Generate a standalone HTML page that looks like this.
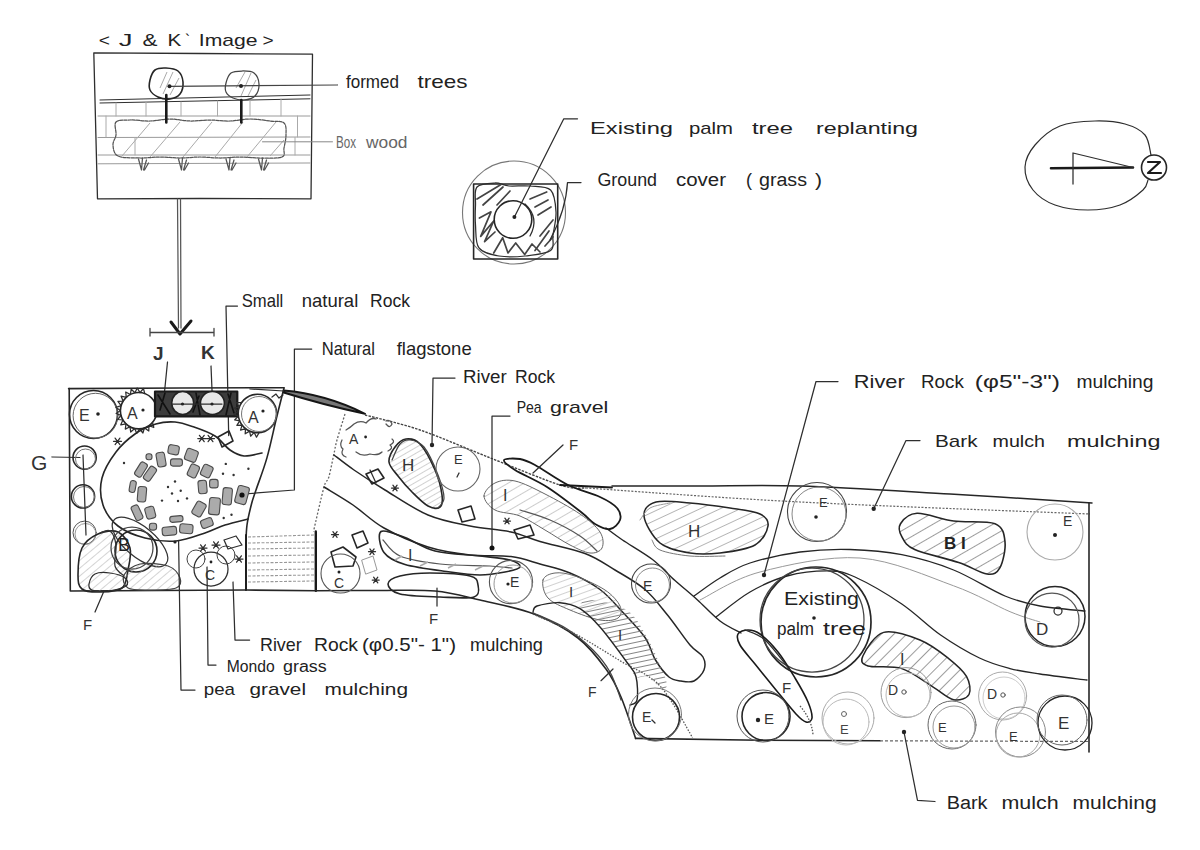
<!DOCTYPE html>
<html><head><meta charset="utf-8">
<style>
html,body{margin:0;padding:0;background:#fff;}
body{width:1200px;height:850px;overflow:hidden;}
svg{display:block;}
text{font-family:"Liberation Sans",sans-serif;fill:#222;}
.s{fill:none;stroke:#262626;stroke-width:1.6;stroke-linecap:round;stroke-linejoin:round;}
.t{fill:none;stroke:#2e2e2e;stroke-width:1.25;stroke-linecap:round;stroke-linejoin:round;}
.l{fill:none;stroke:#888;stroke-width:1;stroke-linecap:round;}
.h{fill:none;stroke:#9a9a9a;stroke-width:1;}
.d{fill:none;stroke:#555;stroke-width:1.3;stroke-dasharray:2 1.5;}
.k{fill:none;stroke:#1a1a1a;stroke-width:2.2;stroke-linecap:round;stroke-linejoin:round;}
</style></head>
<body>
<svg width="1200" height="850" viewBox="0 0 1200 850">
<rect width="1200" height="850" fill="#fff"/>
<text x="98.8" y="46" font-size="17" textLength="11.2" lengthAdjust="spacingAndGlyphs">&lt;</text>
<text x="118.8" y="46" font-size="17" textLength="13.8" lengthAdjust="spacingAndGlyphs">J</text>
<text x="142.5" y="46" font-size="17" textLength="15" lengthAdjust="spacingAndGlyphs">&amp;</text>
<text x="167.5" y="46" font-size="17" textLength="13.8" lengthAdjust="spacingAndGlyphs">K</text>
<text x="185" y="46" font-size="17" textLength="5" lengthAdjust="spacingAndGlyphs">`</text>
<text x="198.8" y="46" font-size="17" textLength="58.8" lengthAdjust="spacingAndGlyphs">Image</text>
<text x="262.5" y="46" font-size="17" textLength="11.2" lengthAdjust="spacingAndGlyphs">&gt;</text>
<path class="t" d="M93.8,52.8 L200,53.5 L312.5,54.2 L311,198.8 L200,198.5 L97.5,198.8 Z" style="stroke-width:1.3"/>
<path class="t" d="M100,100 L310,95 M100,103 L310,98.8" style="stroke-width:1"/>
<path class="l" d="M98,116 L310,116 M98,137.5 L310,137 M98,155 L310,155 M98,163.8 L310,163" style="stroke:#9a9a9a"/>
<path class="l" d="M116,103 V116 M146,102 V116 M181,102 V116 M217.5,101 V116 M250,100 V116 M281,99 V116 M106,116 V137 M297.5,116 V137 M295,137.5 V155 M135,137.5 V155" style="stroke:#aaa"/>
<path class="t" d="M116,122 C118.3,119.5 124.3,120.2 130,120 C135.7,119.8 143.3,121.2 150,121 C156.7,120.8 163.3,119 170,119 C176.7,119 183.3,120.8 190,121 C196.7,121.2 203.3,120 210,120 C216.7,120 223.3,121.2 230,121 C236.7,120.8 243.3,119 250,119 C256.7,119 264.3,120.3 270,121 C275.7,121.7 281.3,120.7 284,123 C286.7,125.3 286,130.8 286,135 C286,139.2 284.7,144.3 284,148 C283.3,151.7 286,155.3 282,157 C278,158.7 267,158 260,158 C253,158 246.7,157 240,157 C233.3,157 226.7,158 220,158 C213.3,158 206.7,157 200,157 C193.3,157 186.7,158 180,158 C173.3,158 166.7,157 160,157 C153.3,157 147,158.2 140,158 C133,157.8 122.5,158.2 118,156 C113.5,153.8 113.3,148.5 113,145 C112.7,141.5 115.5,138.8 116,135 C116.5,131.2 113.7,124.5 116,122 Z" style="stroke:#555;stroke-dasharray:3 1.2"/>
<path class="h" d="M122,156 L150,123 M150,157 L180,122 M183,157 L212,122 M215,157 L243,122 M247,157 L276,122 M270,156 L284,140" style="stroke:#aaa"/>
<path class="t" d="M138.5,159 L141.5,170 L142.5,158 M143.5,170 L146.5,160 M144.5,170 L148.5,163" style="stroke:#555"/>
<path class="t" d="M178.5,159 L181.5,170 L182.5,158 M183.5,170 L186.5,160 M184.5,170 L188.5,163" style="stroke:#555"/>
<path class="t" d="M226,159 L229,170 L230,158 M231,170 L234,160 M232,170 L236,163" style="stroke:#555"/>
<path class="t" d="M258.5,159 L261.5,170 L262.5,158 M263.5,170 L266.5,160 M264.5,170 L268.5,163" style="stroke:#555"/>
<path class="s" d="M150,80 C150.8,76.7 152.3,72 155,70 C157.7,68 162.2,67.8 166,68 C169.8,68.2 175.2,68.7 178,71 C180.8,73.3 182.7,78.2 183,82 C183.3,85.8 182.2,91.2 180,94 C177.8,96.8 173.7,98.5 170,99 C166.3,99.5 161.3,98.5 158,97 C154.7,95.5 151.3,92.8 150,90 C148.7,87.2 149.2,83.3 150,80 Z"/>
<path class="h" d="M167,72 L160,88 M173,72 L163,94 M179,78 L170,95" style="stroke:#aaa"/>
<path class="t" d="M226,83 C226.8,79.8 228.3,75 231,73 C233.7,71 238.2,71 242,71 C245.8,71 251.2,70.8 254,73 C256.8,75.2 258.8,80.2 259,84 C259.2,87.8 257.5,93.3 255,96 C252.5,98.7 247.7,99.7 244,100 C240.3,100.3 236,99.3 233,98 C230,96.7 227.2,94.5 226,92 C224.8,89.5 225.2,86.2 226,83 Z" style="stroke:#444"/>
<path class="h" d="M245,72 L236,88 M251,73 L241,96 M256,80 L248,96" style="stroke:#aaa"/>
<path class="k" d="M166.3,95 V122.5 M241.3,100 V122.5" style="stroke-width:2.6"/>
<path class="t" d="M170,86.3 L337.5,85" style="stroke:#444"/>
<circle cx="169.5" cy="86.3" r="2" fill="#222"/>
<circle cx="241" cy="86" r="2" fill="#222"/>
<text x="346" y="88" font-size="19" textLength="53" lengthAdjust="spacingAndGlyphs">formed</text>
<text x="417.5" y="88" font-size="19" textLength="50" lengthAdjust="spacingAndGlyphs">trees</text>
<path class="l" d="M262.5,141.8 L332.5,141.8"/>
<text x="336" y="148" font-size="16" textLength="20" lengthAdjust="spacingAndGlyphs" style="fill:#666">Box</text>
<text x="366" y="148" font-size="16" textLength="41.5" lengthAdjust="spacingAndGlyphs" style="fill:#666">wood</text>
<path class="t" d="M177.5,199 L178.5,328 M180.5,199 L181,328" style="stroke:#555"/>
<path class="k" d="M171,322 L180,334 L191,321" style="stroke-width:3"/>
<circle class="l" cx="514" cy="212.5" r="51.5" style="stroke:#777;stroke-width:1.1"/>
<path class="s" d="M473.6,184 L557.7,184 L557.7,259 L473.6,259 Z" style="stroke-width:1.6"/>
<path class="t" d="M477,187 C480.2,183.3 489.7,183.2 495,183 C500.3,182.8 503.2,185.5 509,186 C514.8,186.5 523.1,185.3 530,186 C536.9,186.7 546.3,185.7 550.6,190 C554.9,194.3 555.6,204.5 556,212 C556.4,219.5 553.9,228.6 553,235 C552.1,241.4 555.3,247.1 550.6,250.6 C545.9,254.1 533.6,255.1 525,256 C516.4,256.9 506.7,257.3 499,256 C491.3,254.7 482.9,253.2 479,248 C475.1,242.8 476.1,232.2 475.5,225 C474.9,217.8 475.2,211.3 475.5,205 C475.8,198.7 473.8,190.7 477,187 Z"/>
<path class="t" d="M477,199 L501,184.5 M483,205 L503,187 M497,205 L510,191" style="stroke:#444;stroke-width:1.7"/>
<path class="t" d="M479.4,218 L491,211.8 L480.7,236.4 L493.7,221 L484.6,241.6 L495,232" style="stroke:#444;stroke-width:1.7"/>
<path class="t" d="M493.7,253 L502.7,237.7 L508,253 L515.7,243 L524.7,254.5 L532,244 L540,252" style="stroke:#444;stroke-width:1.7"/>
<path class="t" d="M530,199 L546.7,192 M535,207 L548,200 M538,215 L551,207 M540,236 L553,220 M535,250.6 L549,231 M545,246 L553,237" style="stroke:#444;stroke-width:1.7"/>
<circle class="s" cx="513" cy="219.5" r="18.8" style="stroke-width:1.6"/>
<path class="t" d="M525,204 Q540,218 530,236"/>
<path class="t" d="M514.4,217 L563.8,118.8 L577.5,118.8"/>
<circle cx="514.4" cy="217" r="2" fill="#222"/>
<text x="590" y="134" font-size="17" textLength="83" lengthAdjust="spacingAndGlyphs">Existing</text>
<text x="689" y="134" font-size="17" textLength="44" lengthAdjust="spacingAndGlyphs">palm</text>
<text x="752" y="134" font-size="17" textLength="41" lengthAdjust="spacingAndGlyphs">tree</text>
<text x="816" y="134" font-size="17" textLength="102" lengthAdjust="spacingAndGlyphs">replanting</text>
<path class="t" d="M550,240 Q566,210 567.5,182.5 L581,182.5"/>
<text x="597.5" y="186" font-size="18" textLength="59.5" lengthAdjust="spacingAndGlyphs">Ground</text>
<text x="676" y="186" font-size="18" textLength="50" lengthAdjust="spacingAndGlyphs">cover</text>
<text x="746" y="186" font-size="18" textLength="6" lengthAdjust="spacingAndGlyphs">(</text>
<text x="759" y="186" font-size="18" textLength="48" lengthAdjust="spacingAndGlyphs">grass</text>
<text x="815" y="186" font-size="18" textLength="7" lengthAdjust="spacingAndGlyphs">)</text>
<path class="t" d="M1151,155 C1150,151.7 1149.3,140.2 1145,135 C1140.7,129.8 1133.3,126.3 1125,124 C1116.7,121.7 1105.8,120.7 1095,121 C1084.2,121.3 1070,122 1060,126 C1050,130 1040.8,138.2 1035,145 C1029.2,151.8 1025.3,159.5 1025,167 C1024.7,174.5 1028,183.7 1033,190 C1038,196.3 1045.8,201.7 1055,205 C1064.2,208.3 1077.2,210 1088,210 C1098.8,210 1110.8,208.3 1120,205 C1129.2,201.7 1138.3,194.2 1143,190 C1147.7,185.8 1147.2,181.7 1148,180" style="stroke-width:1.2"/>
<circle class="s" cx="1154" cy="167.5" r="12.5" style="stroke-width:1.6"/>
<path class="k" d="M1148,162 L1160,162 L1148,173 L1161,173" style="stroke-width:2.2"/>
<path class="k" d="M1051,168.3 L1133,167.5" style="stroke-width:2.6"/>
<path class="t" d="M1073,153 V184 M1073,153 L1133,167.5"/>
<path class="t" d="M150,332.5 L214,332.5 M150,328.5 V336 M214,328.5 V336" style="stroke:#444;stroke-width:1.3"/>
<text x="153" y="360" font-size="19" font-weight="bold" style="fill:#333">J</text>
<text x="201" y="359" font-size="19" font-weight="bold" style="fill:#333">K</text>
<path class="t" d="M167.5,362 L164,397 M211,366 L212.5,402"/>
<path class="t" d="M228.7,435.6 L226,306 L237.5,306"/>
<text x="241.7" y="307" font-size="19" textLength="41.6" lengthAdjust="spacingAndGlyphs">Small</text>
<text x="301.7" y="307" font-size="19" textLength="56.6" lengthAdjust="spacingAndGlyphs">natural</text>
<text x="370" y="307" font-size="19" textLength="40" lengthAdjust="spacingAndGlyphs">Rock</text>
<path class="t" d="M244,494 L294.4,490 L294.4,349 L311.7,349"/>
<text x="321.7" y="355" font-size="19" textLength="53.3" lengthAdjust="spacingAndGlyphs">Natural</text>
<text x="396.7" y="355" font-size="19" textLength="75" lengthAdjust="spacingAndGlyphs">flagstone</text>
<text x="31" y="470" font-size="21" style="fill:#333">G</text>
<path class="t" d="M52,457 L80,457.5"/>
<path class="s" d="M68.6,388.6 L180,388 L284,387.7" style="stroke-width:1.6"/>
<path class="s" d="M69.2,388.6 L70.3,591 L246,590"/>
<path class="s" d="M284,388 C282.7,393.3 278.8,408.4 276,420 C273.2,431.6 270.3,445.9 267,457.6 C263.7,469.3 258.6,482.3 256,490 C253.4,497.7 253,498.2 251.5,504 C250,509.8 247.9,518.2 247,525 C246.1,531.8 246.2,534.2 246,545 C245.8,555.8 246,582.2 246,589.6"/>
<circle class="s" cx="93.5" cy="414.5" r="24"/>
<circle class="l" cx="95.5" cy="415.7" r="22.4" style="stroke:#666"/>
<text x="79" y="421" font-size="16" style="fill:#333">E</text>
<circle cx="98" cy="414" r="1.8" fill="#222"/>
<circle class="s" cx="138.6" cy="410.7" r="18.2"/>
<path class="t" d="M152.5,422.4 L153.8,427.5 L148.9,425.7 L148.8,431 L144.5,427.9 L142.9,433 L139.6,428.9 L136.7,433.3 L134.7,428.5 L130.7,432 L130,426.8 L125.3,429.1 L126,423.8 L120.8,424.8 L122.9,420 L117.7,419.5 L121,415.4 L116.1,413.5 L120.4,410.5 L116.1,407.4 L121.1,405.6 L117.9,401.4 L123.1,401.1 L121.1,396.2 L126.3,397.3 L125.7,392 L130.4,394.5 L131.2,389.2 L135,392.8 L137.2,388 L140,392.6 L143.4,388.5 L144.8,393.6"/>
<text x="127" y="419" font-size="16" style="fill:#333">A</text>
<circle cx="143" cy="410" r="1.6" fill="#222"/>
<rect x="155" y="391.5" width="82.3" height="25" fill="#3c3c3c"/>
<path class="t" d="M158,395 L170,414 M165,393 L160,410 M196,393 L200,415 M199,396 L193,412 M228,394 L234,413 M231,393 L226,415" style="stroke:#111;stroke-width:1.6"/>
<path class="k" d="M155,391.5 L237.3,391.5 L237.3,416.4 L155,416.4 Z"/>
<ellipse class="s" cx="182.7" cy="403" rx="11" ry="11.5" transform="rotate(0 182.7 403)" style="fill:#e8e8e8;stroke:#222;stroke-width:1.6"/>
<ellipse class="s" cx="212.4" cy="403" rx="12" ry="11.5" transform="rotate(0 212.4 403)" style="fill:#e8e8e8;stroke:#222;stroke-width:1.6"/>
<path class="t" d="M172,404 L222,404"/>
<circle cx="182.5" cy="404" r="1.6" fill="#222"/>
<circle cx="212" cy="404" r="1.6" fill="#222"/>
<circle class="s" cx="257.4" cy="413.5" r="19.2"/>
<circle class="l" cx="259" cy="414" r="17.5" style="stroke:#777"/>
<path class="t" d="M259.1,432.6 L256.5,437.2 L254.2,432.4 L250.6,436.2 L249.6,431.1 L245.2,433.8 L245.5,428.6 L240.5,430.1 L242.1,425.1 L236.9,425.4 L239.7,420.9 L234.6,419.9 L238.4,416.3 L233.7,414 L238.3,411.5 L234.3,408 L239.4,406.8 L236.4,402.5 L241.7,402.5"/>
<text x="248" y="423" font-size="16" style="fill:#333">A</text>
<circle cx="263" cy="411" r="1.6" fill="#222"/>
<path class="t" d="M272,397 L276,394 L279,398 L283,395"/>
<path class="t" d="M113.5,441.3 L121.5,441.3 M115.1,438.1 L119.9,444.5 M119.9,438.1 L115.1,444.5"/>
<path class="t" d="M197.8,438.5 L205.8,438.5 M199.4,435.3 L204.2,441.7 M204.2,435.3 L199.4,441.7"/>
<path class="t" d="M206.5,438.5 L214.5,438.5 M208.1,435.3 L212.9,441.7 M212.9,435.3 L208.1,441.7"/>
<path class="s" d="M218,437 L229,431 L233,441 L222,447 Z"/>
<circle class="s" cx="84.6" cy="457.6" r="11.6"/>
<circle class="l" cx="85.5" cy="459" r="10" style="stroke:#777"/>
<circle class="s" cx="83" cy="496.4" r="11.6"/>
<circle class="l" cx="84" cy="497" r="10.5" style="stroke:#777"/>
<circle class="l" cx="84.6" cy="532.7" r="11.6" style="stroke:#555"/>
<circle class="l" cx="85.5" cy="534" r="10.5" style="stroke:#999"/>
<path class="t" d="M83,455 L86,535"/>
<path class="s" d="M262,453 C259,453.5 249.3,456.5 244,456 C238.7,455.5 234.8,453.3 230,450 C225.2,446.7 221,439.8 215,436 C209,432.2 200.7,429.3 194,427 C187.3,424.7 181.4,422.5 175,422 C168.6,421.5 162.5,422 155.8,424 C149.1,426 141.6,429.3 135,434 C128.4,438.7 121.5,444.7 116,452 C110.5,459.3 104.2,469.2 102,478 C99.8,486.8 100.3,497 103,505 C105.7,513 111,520.5 118,526 C125,531.5 135.3,535.5 145,538 C154.7,540.5 166,541.8 176,541 C186,540.2 196.8,535.7 205,533 C213.2,530.3 217.8,527.3 225,525 C232.2,522.7 244.2,520 248,519"/>
<rect x="168.2" y="445.1" width="10.8" height="9.3" rx="2.5" transform="rotate(10 173.6 449.8)" fill="#ababab" stroke="#4a4a4a" stroke-width="1.1"/>
<rect x="156.8" y="452.4" width="8.5" height="14.4" rx="2.5" transform="rotate(-10 161 459.6)" fill="#ababab" stroke="#4a4a4a" stroke-width="1.1"/>
<rect x="146" y="453.8" width="6" height="6" rx="2.5" transform="rotate(0 149 456.8)" fill="#ababab" stroke="#4a4a4a" stroke-width="1.1"/>
<rect x="137.2" y="461.9" width="7.6" height="15.3" rx="2.5" transform="rotate(32 141 469.5)" fill="#ababab" stroke="#4a4a4a" stroke-width="1.1"/>
<rect x="146.2" y="466.1" width="7.6" height="15.3" rx="2.5" transform="rotate(35 150 473.7)" fill="#ababab" stroke="#4a4a4a" stroke-width="1.1"/>
<rect x="129.7" y="480.6" width="6" height="11.9" rx="2.5" transform="rotate(10 132.7 486.5)" fill="#ababab" stroke="#4a4a4a" stroke-width="1.1"/>
<rect x="137.7" y="486.6" width="8.5" height="15.3" rx="2.5" transform="rotate(5 141.9 494.2)" fill="#ababab" stroke="#4a4a4a" stroke-width="1.1"/>
<rect x="133.2" y="505" width="7.6" height="15.3" rx="2.5" transform="rotate(-25 137 512.6)" fill="#ababab" stroke="#4a4a4a" stroke-width="1.1"/>
<rect x="145.6" y="506.7" width="9.3" height="11.9" rx="2.5" transform="rotate(-15 150.3 512.6)" fill="#ababab" stroke="#4a4a4a" stroke-width="1.1"/>
<rect x="149.4" y="523.3" width="7.2" height="6.8" rx="2.5" transform="rotate(0 153 526.7)" fill="#ababab" stroke="#4a4a4a" stroke-width="1.1"/>
<rect x="162.2" y="526.8" width="14.4" height="8.5" rx="2.5" transform="rotate(-5 169.4 531)" fill="#ababab" stroke="#4a4a4a" stroke-width="1.1"/>
<rect x="169.8" y="516" width="13.2" height="6" rx="2.5" transform="rotate(-5 176.4 519)" fill="#ababab" stroke="#4a4a4a" stroke-width="1.1"/>
<rect x="179.7" y="524.1" width="13.2" height="9.3" rx="2.5" transform="rotate(5 186.3 528.8)" fill="#ababab" stroke="#4a4a4a" stroke-width="1.1"/>
<rect x="200.9" y="518.8" width="11.9" height="8.5" rx="2.5" transform="rotate(-20 206.8 523)" fill="#ababab" stroke="#4a4a4a" stroke-width="1.1"/>
<rect x="193.9" y="501.8" width="10.2" height="14.4" rx="2.5" transform="rotate(30 199 509)" fill="#ababab" stroke="#4a4a4a" stroke-width="1.1"/>
<rect x="209.1" y="497.7" width="10.8" height="17" rx="2.5" transform="rotate(5 214.5 506.2)" fill="#ababab" stroke="#4a4a4a" stroke-width="1.1"/>
<rect x="222.6" y="487.8" width="9.3" height="17" rx="2.5" transform="rotate(5 227.3 496.3)" fill="#ababab" stroke="#4a4a4a" stroke-width="1.1"/>
<rect x="236.3" y="486.1" width="11.5" height="17.8" rx="2.5" transform="rotate(15 242 495)" fill="#ababab" stroke="#4a4a4a" stroke-width="1.1"/>
<rect x="209.6" y="479.4" width="8.5" height="8.5" rx="2.5" transform="rotate(0 213.8 483.6)" fill="#ababab" stroke="#4a4a4a" stroke-width="1.1"/>
<rect x="198.3" y="480.4" width="8.5" height="13.2" rx="2.5" transform="rotate(-5 202.6 487)" fill="#ababab" stroke="#4a4a4a" stroke-width="1.1"/>
<rect x="201.7" y="465.1" width="10.2" height="11.9" rx="2.5" transform="rotate(25 206.8 471)" fill="#ababab" stroke="#4a4a4a" stroke-width="1.1"/>
<rect x="188.7" y="464.6" width="9.3" height="12.8" rx="2.5" transform="rotate(25 193.4 471)" fill="#ababab" stroke="#4a4a4a" stroke-width="1.1"/>
<rect x="185.4" y="449.4" width="11.9" height="11.9" rx="2.5" transform="rotate(20 191.3 455.4)" fill="#ababab" stroke="#4a4a4a" stroke-width="1.1"/>
<rect x="170.5" y="458.9" width="11.9" height="7.2" rx="2.5" transform="rotate(0 176.4 462.5)" fill="#ababab" stroke="#4a4a4a" stroke-width="1.1"/>
<circle cx="242" cy="495" r="2.6" fill="#111"/>
<circle cx="124" cy="463" r="1.2" fill="#333"/>
<circle cx="168" cy="487" r="1.2" fill="#333"/>
<circle cx="175" cy="481.5" r="1.2" fill="#333"/>
<circle cx="180.7" cy="490.7" r="1.2" fill="#333"/>
<circle cx="172" cy="493.5" r="1.2" fill="#333"/>
<circle cx="162" cy="500.6" r="1.2" fill="#333"/>
<circle cx="178" cy="501" r="1.2" fill="#333"/>
<circle cx="187" cy="498.4" r="1.2" fill="#333"/>
<circle cx="225.8" cy="463.9" r="1.2" fill="#333"/>
<circle cx="248.4" cy="468.8" r="1.2" fill="#333"/>
<circle cx="223" cy="473.7" r="1.2" fill="#333"/>
<circle cx="233.6" cy="475" r="1.2" fill="#333"/>
<circle cx="223.7" cy="518" r="1.2" fill="#333"/>
<circle cx="231.5" cy="514.7" r="1.2" fill="#333"/>
<clipPath id="c1"><path d="M78,575 C78,568.2 78.7,554.8 82,548 C85.3,541.2 92,536.7 98,534 C104,531.3 112.7,529.7 118,532 C123.3,534.3 128.3,541.7 130,548 C131.7,554.3 129.3,563.3 128,570 C126.7,576.7 126.7,584.3 122,588 C117.3,591.7 106.7,591.8 100,592 C93.3,592.2 85.7,591.8 82,589 C78.3,586.2 78,581.8 78,575 Z"/></clipPath>
<pattern id="p1" patternUnits="userSpaceOnUse" width="6" height="6" patternTransform="rotate(50)"><line x1="0" y1="0" x2="0" y2="6" stroke="#aaa" stroke-width="1"/></pattern>
<path d="M78,575 C78,568.2 78.7,554.8 82,548 C85.3,541.2 92,536.7 98,534 C104,531.3 112.7,529.7 118,532 C123.3,534.3 128.3,541.7 130,548 C131.7,554.3 129.3,563.3 128,570 C126.7,576.7 126.7,584.3 122,588 C117.3,591.7 106.7,591.8 100,592 C93.3,592.2 85.7,591.8 82,589 C78.3,586.2 78,581.8 78,575 Z" fill="url(#p1)" stroke="none"/>
<path class="s" d="M78,575 C78,568.2 78.7,554.8 82,548 C85.3,541.2 92,536.7 98,534 C104,531.3 112.7,529.7 118,532 C123.3,534.3 128.3,541.7 130,548 C131.7,554.3 129.3,563.3 128,570 C126.7,576.7 126.7,584.3 122,588 C117.3,591.7 106.7,591.8 100,592 C93.3,592.2 85.7,591.8 82,589 C78.3,586.2 78,581.8 78,575 Z"/>
<circle class="s" cx="136" cy="551" r="21"/>
<circle class="t" cx="132" cy="548" r="21" style="stroke:#444"/>
<ellipse class="t" cx="140" cy="542" rx="34" ry="15" transform="rotate(40 140 542)" style="stroke:#333"/>
<path class="t" d="M100,533 C101.7,532.7 107.3,529 110,531 C112.7,533 115.2,539.2 116,545 C116.8,550.8 113.7,560.8 115,566 C116.3,571.2 122.5,574.3 124,576" style="stroke:#333"/>
<text x="118" y="551" font-size="18" style="fill:#222">B</text>
<clipPath id="c2"><path d="M124,575 C126,571 132.7,565.5 140,564 C147.3,562.5 161.3,563.7 168,566 C174.7,568.3 178.7,574.3 180,578 C181.3,581.7 181,586 176,588 C171,590 158,590 150,590 C142,590 132.3,590.5 128,588 C123.7,585.5 122,579 124,575 Z"/></clipPath>
<pattern id="p2" patternUnits="userSpaceOnUse" width="6" height="6" patternTransform="rotate(50)"><line x1="0" y1="0" x2="0" y2="6" stroke="#aaa" stroke-width="1"/></pattern>
<path d="M124,575 C126,571 132.7,565.5 140,564 C147.3,562.5 161.3,563.7 168,566 C174.7,568.3 178.7,574.3 180,578 C181.3,581.7 181,586 176,588 C171,590 158,590 150,590 C142,590 132.3,590.5 128,588 C123.7,585.5 122,579 124,575 Z" fill="url(#p2)" stroke="none"/>
<path class="t" d="M124,575 C126,571 132.7,565.5 140,564 C147.3,562.5 161.3,563.7 168,566 C174.7,568.3 178.7,574.3 180,578 C181.3,581.7 181,586 176,588 C171,590 158,590 150,590 C142,590 132.3,590.5 128,588 C123.7,585.5 122,579 124,575 Z" style="stroke:#444"/>
<path class="t" d="M89,584 C89.5,581.3 91.5,575.8 95,574 C98.5,572.2 105,572.3 110,573 C115,573.7 122.3,575.8 125,578 C127.7,580.2 128.8,583.8 126,586 C123.2,588.2 113.7,590.3 108,591 C102.3,591.7 95.2,591.2 92,590 C88.8,588.8 88.5,586.7 89,584 Z"/>
<path class="t" d="M104,591 L95,612"/>
<text x="83" y="630" font-size="15" style="fill:#333">F</text>
<circle class="t" cx="211" cy="569" r="17"/>
<circle class="l" cx="196" cy="559" r="9" style="stroke:#444"/>
<circle class="l" cx="226" cy="555" r="9" style="stroke:#444"/>
<text x="205" y="580" font-size="14" style="fill:#333">C</text>
<circle cx="211" cy="562" r="1.4" fill="#222"/>
<path class="t" d="M199,548 L207,548 M200.6,544.8 L205.4,551.2 M205.4,544.8 L200.6,551.2"/>
<path class="t" d="M212,545 L220,545 M213.6,541.8 L218.4,548.2 M218.4,541.8 L213.6,548.2"/>
<path class="t" d="M235,559 L243,559 M236.6,555.8 L241.4,562.2 M241.4,555.8 L236.6,562.2"/>
<path class="t" d="M224,540 L236,536 L242,545 L228,549 Z"/>
<circle cx="175" cy="542" r="1.6" fill="#222"/>
<path class="d" d="M248,537 L314,535 M248,543 L314,542 M248,549 L314,548 M248,556 L314,555 M248,563 L314,562 M248,570 L314,569 M248,576 L314,575 M248,582 L314,581" style="stroke:#999;stroke-width:1.1;stroke-dasharray:3 1.5"/>
<path class="k" d="M246,535 V590" style="stroke-width:1.8"/>
<path class="k" d="M315.8,531.5 V590.7" style="stroke-width:2.4"/>
<path d="M283.7,390.6 Q325,394 365,413.8 Q322,404.5 283.7,392.5 Z" fill="#777" stroke="#151515" stroke-width="2" stroke-linejoin="round"/>
<path class="t" d="M283.7,391 L250,389"/>
<path class="d" d="M365,415 C374.2,417.5 399.5,423 420,430 C440.5,437 464.7,447.8 488,457 C511.3,466.2 543.7,479.8 560,485 C576.3,490.2 581.7,487.5 586,488" style="stroke:#444;stroke-width:1.4;stroke-dasharray:2.5 1.2"/>
<path class="d" d="M586,488 C621.7,490.3 716,497.7 800,502 C884,506.3 1041.7,512 1090,514" style="stroke:#666;stroke-width:1.2;stroke-dasharray:2 1.5"/>
<path class="d" d="M345,414 C343.7,418.3 338.9,433.2 337,440 C335.1,446.8 335.1,448.8 333.7,455 C332.3,461.2 330.3,472.2 328.7,477.5 C327.1,482.8 326.5,478 324,487 C321.5,496 315.2,524.1 313.5,531.5" style="stroke:#666;stroke-width:1.3;stroke-dasharray:2 1.8"/>
<path class="s" d="M316,590.7 C326.7,590.7 360.2,590.5 380,590.5 C399.8,590.5 418.3,589.4 435,591 C451.7,592.6 463.5,596.2 480,600 C496.5,603.8 517.7,607.7 534,614 C550.3,620.3 566,628.8 578,638 C590,647.2 598.8,659.2 606,669 C613.2,678.8 616.1,685.4 621,697 C625.9,708.6 633.2,731.5 635.6,738.4" style="stroke-width:1.6"/>
<path class="s" d="M635.6,738.4 L760,740.3 L880,740.8"/>
<path class="s" d="M334,455 C337.3,457.5 345.5,464.2 354,470 C362.5,475.8 372.7,482.5 385,490 C397.3,497.5 413.8,509 428,515 C442.2,521 456.2,523.2 470,526 C483.8,528.8 499.3,529.4 511,532 C522.7,534.6 527.7,537.9 540,541.5 C552.3,545.1 572.5,548.8 585,553.5 C597.5,558.2 605,564 615,570 C625,576 636.2,582 645,589.5 C653.8,597 660,605.8 667.5,615 C675,624.2 684.1,638 690,645 C695.9,652 700.7,652.8 703,657 C705.3,661.2 705.5,666 704,670 C702.5,674 697.8,679.2 694,681 C690.2,682.8 685.2,681.7 681,681 C676.8,680.3 673.2,680.5 669,677 C664.8,673.5 659.5,666.6 655.5,660 C651.5,653.4 650.5,645.5 645,637.5 C639.5,629.5 630,620 622.5,612 C615,604 608.8,596 600,589.5 C591.2,583 580,577.2 570,573 C560,568.8 549.8,566.8 540,564 C530.2,561.2 522.7,558 511,556.5 C499.3,555 483.8,556.6 470,555 C456.2,553.4 442.3,551.5 428,547 C413.7,542.5 396.5,535 384,528 C371.5,521 363,511.8 353,505 C343,498.2 328.8,490 324,487" style="stroke-width:1.5"/>
<path class="s" d="M606,528 C608.8,530 614.8,534.8 622.5,540 C630.2,545.2 643.8,552.8 652.5,559.5 C661.2,566.2 667.5,573.8 675,580.5 C682.5,587.2 690,593.2 697.5,600 C705,606.8 712.8,615.5 720,621 C727.2,626.5 737.5,631 741,633" style="stroke-width:1.4"/>
<path class="k" d="M504,460 C504.8,458.2 514.8,458.2 520,459 C525.2,459.8 527,460.7 535,465 C543,469.3 557.2,479.7 568,485 C578.8,490.3 591.8,493.2 600,497 C608.2,500.8 613.7,504.2 617,508 C620.3,511.8 621.2,516.5 620,520 C618.8,523.5 614.2,528.3 610,529 C605.8,529.7 599.8,526.8 595,524 C590.2,521.2 589,518.2 581,512 C573,505.8 558,494 547,487 C536,480 522.2,474.5 515,470 C507.8,465.5 503.2,461.8 504,460 Z" style="stroke-width:1.8"/>
<path class="t" d="M563,445 L533,473"/>
<text x="569" y="450" font-size="15" style="fill:#333">F</text>
<clipPath id="c3"><path d="M389,462 C388.5,457.2 392.2,450.8 395,447 C397.8,443.2 401.8,439.5 406,439 C410.2,438.5 415.2,438.8 420,444 C424.8,449.2 431.3,461.5 435,470 C438.7,478.5 441.2,488.8 442,495 C442.8,501.2 442.3,505.2 440,507 C437.7,508.8 432.7,508.5 428,506 C423.3,503.5 417,497 412,492 C407,487 401.8,481 398,476 C394.2,471 389.5,466.8 389,462 Z"/></clipPath>
<pattern id="p3" patternUnits="userSpaceOnUse" width="5" height="5" patternTransform="rotate(60)"><line x1="0" y1="0" x2="0" y2="5" stroke="#aaa" stroke-width="1.1"/></pattern>
<path d="M389,462 C388.5,457.2 392.2,450.8 395,447 C397.8,443.2 401.8,439.5 406,439 C410.2,438.5 415.2,438.8 420,444 C424.8,449.2 431.3,461.5 435,470 C438.7,478.5 441.2,488.8 442,495 C442.8,501.2 442.3,505.2 440,507 C437.7,508.8 432.7,508.5 428,506 C423.3,503.5 417,497 412,492 C407,487 401.8,481 398,476 C394.2,471 389.5,466.8 389,462 Z" fill="url(#p3)" stroke="none"/>
<path class="s" d="M389,462 C388.5,457.2 392.2,450.8 395,447 C397.8,443.2 401.8,439.5 406,439 C410.2,438.5 415.2,438.8 420,444 C424.8,449.2 431.3,461.5 435,470 C438.7,478.5 441.2,488.8 442,495 C442.8,501.2 442.3,505.2 440,507 C437.7,508.8 432.7,508.5 428,506 C423.3,503.5 417,497 412,492 C407,487 401.8,481 398,476 C394.2,471 389.5,466.8 389,462 Z"/>
<path class="t" d="M392,460 C393.3,457.3 397,447.3 400,444 C403,440.7 406,439.5 410,440 C414,440.5 419.3,441.2 424,447 C428.7,452.8 434.7,466.5 438,475 C441.3,483.5 444,492.5 444,498 C444,503.5 439,506.3 438,508" style="stroke:#444"/>
<text x="402" y="471" font-size="17" style="fill:#333">H</text>
<circle class="l" cx="458" cy="469" r="22" style="stroke:#666;stroke-width:1.1"/>
<text x="454" y="464" font-size="13" style="fill:#333">E</text>
<path class="t" d="M459,473 L457,477"/>
<circle cx="432" cy="445" r="2.2" fill="#222"/>
<path class="t" d="M346,430 q5,-3 8,-6 q6,-4 12,-1 q5,-6 10,-4 M386,421 q4,-2 6,3 q-2,5 -6,0 M342,440 q-3,6 1,9 q-3,6 3,8 M356,452 q6,5 14,2 q8,2 12,-2 M392,439 q4,3 -2,6 q4,3 -2,6" style="stroke:#555"/>
<text x="349" y="444" font-size="14" style="fill:#333">A</text>
<circle cx="365.6" cy="437" r="1.4" fill="#222"/>
<path class="s" d="M366,474 L378,469 L384,478 L372,484 Z"/>
<path class="t" d="M370,470 L376,483"/>
<path class="t" d="M391.5,488 L398.5,488 M392.9,485.2 L397.1,490.8 M397.1,485.2 L392.9,490.8"/>
<clipPath id="c4"><path d="M484,496 C484,491.5 489.8,485.5 495,483 C500.2,480.5 506.7,479.2 515,481 C523.3,482.8 534.2,488.5 545,494 C555.8,499.5 570.8,507.7 580,514 C589.2,520.3 596.3,526.3 600,532 C603.7,537.7 603.7,544.5 602,548 C600.3,551.5 595.3,553.5 590,553 C584.7,552.5 577.5,548.8 570,545 C562.5,541.2 553.3,534.8 545,530 C536.7,525.2 528.3,519.3 520,516 C511.7,512.7 501,513.3 495,510 C489,506.7 484,500.5 484,496 Z"/></clipPath>
<pattern id="p4" patternUnits="userSpaceOnUse" width="8" height="8" patternTransform="rotate(60)"><line x1="0" y1="0" x2="0" y2="8" stroke="#aaa" stroke-width="1.2"/></pattern>
<path d="M484,496 C484,491.5 489.8,485.5 495,483 C500.2,480.5 506.7,479.2 515,481 C523.3,482.8 534.2,488.5 545,494 C555.8,499.5 570.8,507.7 580,514 C589.2,520.3 596.3,526.3 600,532 C603.7,537.7 603.7,544.5 602,548 C600.3,551.5 595.3,553.5 590,553 C584.7,552.5 577.5,548.8 570,545 C562.5,541.2 553.3,534.8 545,530 C536.7,525.2 528.3,519.3 520,516 C511.7,512.7 501,513.3 495,510 C489,506.7 484,500.5 484,496 Z" fill="url(#p4)" stroke="none"/>
<path class="l" d="M484,496 C484,491.5 489.8,485.5 495,483 C500.2,480.5 506.7,479.2 515,481 C523.3,482.8 534.2,488.5 545,494 C555.8,499.5 570.8,507.7 580,514 C589.2,520.3 596.3,526.3 600,532 C603.7,537.7 603.7,544.5 602,548 C600.3,551.5 595.3,553.5 590,553 C584.7,552.5 577.5,548.8 570,545 C562.5,541.2 553.3,534.8 545,530 C536.7,525.2 528.3,519.3 520,516 C511.7,512.7 501,513.3 495,510 C489,506.7 484,500.5 484,496 Z" style="stroke:#666"/>
<path class="t" d="M520,510 C525,511.7 540,515.7 550,520 C560,524.3 572.2,530.8 580,536 C587.8,541.2 594.2,548.5 597,551" style="stroke:#555"/>
<text x="503" y="501" font-size="16" style="fill:#333">I</text>
<path class="s" d="M458,510 L471,506 L475,519 L462,522 Z"/>
<path class="s" d="M514,530 L530,525 L534,535 L518,539 Z"/>
<path class="t" d="M503.5,521 L510.5,521 M504.9,518.2 L509.1,523.8 M509.1,518.2 L504.9,523.8"/>
<path class="t" d="M492,548 L492,416 L510,416"/>
<circle cx="492" cy="548" r="2.5" fill="#111"/>
<text x="516.7" y="413" font-size="17" textLength="25" lengthAdjust="spacingAndGlyphs">Pea</text>
<text x="550" y="413" font-size="17" textLength="58.3" lengthAdjust="spacingAndGlyphs">gravel</text>
<path class="t" d="M432,445 L433,378 L455,378"/>
<text x="463" y="383" font-size="18" textLength="43.7" lengthAdjust="spacingAndGlyphs">River</text>
<text x="515" y="383" font-size="18" textLength="40" lengthAdjust="spacingAndGlyphs">Rock</text>
<path class="s" d="M352,535 L363,531 L368,543 L357,548 Z" style="stroke-width:1.6"/>
<path class="s" d="M331,552 L343,547 L356,557 L353,566 L335,567 Z"/>
<path class="l" d="M362,560 L373,556 L377,570 L366,574 Z" style="stroke:#999"/>
<path class="t" d="M331.5,534.5 L338.5,534.5 M332.9,531.7 L337.1,537.3 M337.1,531.7 L332.9,537.3"/>
<path class="t" d="M368.5,551.7 L375.5,551.7 M369.9,548.9 L374.1,554.5 M374.1,548.9 L369.9,554.5"/>
<path class="t" d="M372.2,580 L379.2,580 M373.6,577.2 L377.8,582.8 M377.8,577.2 L373.6,582.8"/>
<circle class="l" cx="340.5" cy="573.5" r="19.5" style="stroke:#555;stroke-width:1.1"/>
<text x="334" y="588" font-size="14" style="fill:#333">C</text>
<circle cx="339" cy="572" r="1.5" fill="#222"/>
<path class="s" d="M381,531.5 C384.5,529 396,534.2 405,537.5 C414,540.8 422.5,547.9 435,551 C447.5,554.1 467.5,554.5 480,556 C492.5,557.5 503.3,558.2 510,560 C516.7,561.8 520.8,565 520,567 C519.2,569 511.7,570.7 505,572 C498.3,573.3 489.2,575 480,575 C470.8,575 462.5,573.8 450,572 C437.5,570.2 416,567.8 405,564.5 C394,561.2 388,558 384,552.5 C380,547 377.5,534 381,531.5 Z"/>
<path class="t" d="M383,540 C385.8,542.7 390.5,552 400,556 C409.5,560 425,562.3 440,564 C455,565.7 478,565.3 490,566 C502,566.7 508.3,567.7 512,568" style="stroke:#555"/>
<path class="h" d="M395,560 L402,556 M420,566 L428,562 M448,568 L456,564 M475,570 L483,566" style="stroke:#aaa;stroke-width:1.5"/>
<text x="408" y="561" font-size="16" style="fill:#333">I</text>
<path class="s" d="M400,576 C407,574.2 418.3,573 430,573 C441.7,573 462,574 470,576 C478,578 477.3,581.5 478,585 C478.7,588.5 480.3,595 474,597 C467.7,599 452.3,597.5 440,597 C427.7,596.5 408.7,596.2 400,594 C391.3,591.8 388,587 388,584 C388,581 393,577.8 400,576 Z"/>
<path class="t" d="M437,588 L437,606"/>
<text x="429" y="624" font-size="15" style="fill:#333">F</text>
<circle class="l" cx="511" cy="582" r="21.6" style="stroke:#555;stroke-width:1.1"/>
<circle class="l" cx="513" cy="584" r="19" style="stroke:#999"/>
<text x="510" y="587" font-size="14" style="fill:#333">E</text>
<circle cx="508" cy="584" r="1.6" fill="#222"/>
<clipPath id="c5"><path d="M543,580 C544.2,575.8 549.7,573.7 555,573 C560.3,572.3 566.7,573.2 575,576 C583.3,578.8 597.5,585 605,590 C612.5,595 617.8,601.3 620,606 C622.2,610.7 621.3,615.7 618,618 C614.7,620.3 608,621.3 600,620 C592,618.7 578.7,613.7 570,610 C561.3,606.3 552.5,603 548,598 C543.5,593 541.8,584.2 543,580 Z"/></clipPath>
<pattern id="p5" patternUnits="userSpaceOnUse" width="6" height="6" patternTransform="rotate(70)"><line x1="0" y1="0" x2="0" y2="6" stroke="#aaa" stroke-width="1.1"/></pattern>
<path d="M543,580 C544.2,575.8 549.7,573.7 555,573 C560.3,572.3 566.7,573.2 575,576 C583.3,578.8 597.5,585 605,590 C612.5,595 617.8,601.3 620,606 C622.2,610.7 621.3,615.7 618,618 C614.7,620.3 608,621.3 600,620 C592,618.7 578.7,613.7 570,610 C561.3,606.3 552.5,603 548,598 C543.5,593 541.8,584.2 543,580 Z" fill="url(#p5)" stroke="none"/>
<path class="l" d="M543,580 C544.2,575.8 549.7,573.7 555,573 C560.3,572.3 566.7,573.2 575,576 C583.3,578.8 597.5,585 605,590 C612.5,595 617.8,601.3 620,606 C622.2,610.7 621.3,615.7 618,618 C614.7,620.3 608,621.3 600,620 C592,618.7 578.7,613.7 570,610 C561.3,606.3 552.5,603 548,598 C543.5,593 541.8,584.2 543,580 Z" style="stroke:#666"/>
<text x="569" y="597" font-size="15" style="fill:#333">I</text>
<circle class="l" cx="651" cy="583.5" r="19.5" style="stroke:#444;stroke-width:1.1"/>
<circle class="l" cx="652.5" cy="585" r="17" style="stroke:#888"/>
<text x="643" y="591" font-size="14" style="fill:#333">E</text>
<clipPath id="c6"><path d="M590,600 C597.8,600.2 617.2,603.9 626.7,610 C636.2,616.1 641.2,627.6 646.7,636.7 C652.2,645.8 656.7,657 660,664.7 C663.3,672.4 666.2,679 666.7,683 C667.2,687 666,689.8 662.7,688.7 C659.4,687.7 651.2,678.7 646.7,676.7 C642.2,674.7 639.3,679.2 636,676.7 C632.7,674.2 632.7,670.3 626.7,662 C620.7,653.7 607.8,635.9 600,627 C592.2,618.1 581.7,613.2 580,608.7 C578.3,604.2 582.2,599.8 590,600 Z"/></clipPath>
<pattern id="p6" patternUnits="userSpaceOnUse" width="5" height="5" patternTransform="rotate(78)"><line x1="0" y1="0" x2="0" y2="5" stroke="#777" stroke-width="1.8"/></pattern>
<path d="M590,600 C597.8,600.2 617.2,603.9 626.7,610 C636.2,616.1 641.2,627.6 646.7,636.7 C652.2,645.8 656.7,657 660,664.7 C663.3,672.4 666.2,679 666.7,683 C667.2,687 666,689.8 662.7,688.7 C659.4,687.7 651.2,678.7 646.7,676.7 C642.2,674.7 639.3,679.2 636,676.7 C632.7,674.2 632.7,670.3 626.7,662 C620.7,653.7 607.8,635.9 600,627 C592.2,618.1 581.7,613.2 580,608.7 C578.3,604.2 582.2,599.8 590,600 Z" fill="url(#p6)" stroke="none"/>
<path class="s" d="M533,612 C533.7,611 532.5,607.5 537,606 C541.5,604.5 552.8,602.2 560,602.7 C567.2,603.2 573.3,604.7 580,608.7 C586.7,612.8 592.2,618.1 600,627 C607.8,635.9 620.7,653.7 626.7,662 C632.7,670.3 634.3,670.4 636,676.7 C637.7,683 638,695.3 637,700 C636,704.7 631.2,704.2 630,705" style="stroke-width:1.4"/>
<path class="t" d="M533,612.7 C538.6,615.4 556.7,622.5 566.7,628.7 C576.7,634.9 585.8,642.8 593,650 C600.2,657.2 605.3,663.7 610,672 C614.7,680.3 619.2,695.3 621,700" style="stroke:#444"/>
<path class="d" d="M533,614 C539.7,617.1 558.5,624.9 573,632.7 C587.5,640.5 605.5,651.8 620,660.7 C634.5,669.6 647.9,673.2 660,686 C672.1,698.8 687.1,728.9 692.5,737.5" style="stroke:#555;stroke-dasharray:1.5 1.5"/>
<text x="618" y="640" font-size="15" style="fill:#333">I</text>
<path class="t" d="M613,669 L601,680.7"/>
<text x="588" y="697" font-size="14" style="fill:#333">F</text>
<circle class="s" cx="656" cy="717" r="23.5"/>
<circle class="l" cx="655" cy="714.5" r="26.5" style="stroke:#777"/>
<text x="642" y="722" font-size="14" style="fill:#333">E</text>
<path class="t" d="M652,720 L655,723"/>
<path class="k" d="M560,485 L612,487.5" style="stroke-width:1.8"/>
<path class="s" d="M612,486 C626.7,486 668.7,486 700,486 C731.3,486 758.3,484.7 800,486 C841.7,487.3 901.3,491.2 950,494 C998.7,496.8 1068.3,501.5 1092,503" style="stroke-width:1.5"/>
<path class="s" d="M1089,503 L1089,752" style="stroke-width:1.6"/>
<path class="d" d="M880,740.8 L1089,741.5" style="stroke:#666;stroke-width:1.2;stroke-dasharray:3 2"/>
<clipPath id="c7"><path d="M644,516 C643.3,509.2 648.3,504.2 656,502 C663.7,499.8 677.7,502 690,503 C702.3,504 718.3,506.2 730,508 C741.7,509.8 753.7,511 760,514 C766.3,517 768.8,520.8 768,526 C767.2,531.2 763,540.5 755,545 C747,549.5 730.8,551.7 720,553 C709.2,554.3 700,554.7 690,553 C680,551.3 667.7,549.2 660,543 C652.3,536.8 644.7,522.8 644,516 Z"/></clipPath>
<pattern id="p7" patternUnits="userSpaceOnUse" width="8.5" height="8.5" patternTransform="rotate(65)"><line x1="0" y1="0" x2="0" y2="8.5" stroke="#888" stroke-width="1.2"/></pattern>
<path d="M644,516 C643.3,509.2 648.3,504.2 656,502 C663.7,499.8 677.7,502 690,503 C702.3,504 718.3,506.2 730,508 C741.7,509.8 753.7,511 760,514 C766.3,517 768.8,520.8 768,526 C767.2,531.2 763,540.5 755,545 C747,549.5 730.8,551.7 720,553 C709.2,554.3 700,554.7 690,553 C680,551.3 667.7,549.2 660,543 C652.3,536.8 644.7,522.8 644,516 Z" fill="url(#p7)" stroke="none"/>
<path class="s" d="M644,516 C643.3,509.2 648.3,504.2 656,502 C663.7,499.8 677.7,502 690,503 C702.3,504 718.3,506.2 730,508 C741.7,509.8 753.7,511 760,514 C766.3,517 768.8,520.8 768,526 C767.2,531.2 763,540.5 755,545 C747,549.5 730.8,551.7 720,553 C709.2,554.3 700,554.7 690,553 C680,551.3 667.7,549.2 660,543 C652.3,536.8 644.7,522.8 644,516 Z"/>
<path class="l" d="M640,520 C641.7,518 645,510.8 650,508 C655,505.2 666.7,503.8 670,503" style="stroke:#999"/>
<path class="l" d="M652,540 C653.3,541.7 653.7,547.3 660,550 C666.3,552.7 679.2,555 690,556 C700.8,557 719.2,556 725,556" style="stroke:#777"/>
<text x="688" y="537" font-size="17" style="fill:#333">H</text>
<circle class="l" cx="817" cy="512" r="29.5" style="stroke:#444;stroke-width:1.1"/>
<circle class="l" cx="819" cy="514" r="27" style="stroke:#888"/>
<text x="819" y="507" font-size="13" style="fill:#333">E</text>
<circle cx="816" cy="517" r="1.8" fill="#222"/>
<clipPath id="c8"><path d="M900.5,523.7 C903,519.8 908.1,513.8 917,513.3 C925.9,512.8 940.6,519.3 953.6,521 C966.6,522.7 986.4,520.2 995,523.7 C1003.6,527.2 1004.2,534.5 1005,541.8 C1005.8,549.1 1003,562.3 1000,567.7 C997,573.1 993.9,574.9 987,574 C980.1,573.1 970.8,566.6 958.7,562.5 C946.7,558.4 924.2,553.8 914.7,549.5 C905.2,545.2 904.2,540.9 901.8,536.6 C899.4,532.3 898,527.6 900.5,523.7 Z"/></clipPath>
<pattern id="p8" patternUnits="userSpaceOnUse" width="10" height="10" patternTransform="rotate(60)"><line x1="0" y1="0" x2="0" y2="10" stroke="#666" stroke-width="1.3"/></pattern>
<path d="M900.5,523.7 C903,519.8 908.1,513.8 917,513.3 C925.9,512.8 940.6,519.3 953.6,521 C966.6,522.7 986.4,520.2 995,523.7 C1003.6,527.2 1004.2,534.5 1005,541.8 C1005.8,549.1 1003,562.3 1000,567.7 C997,573.1 993.9,574.9 987,574 C980.1,573.1 970.8,566.6 958.7,562.5 C946.7,558.4 924.2,553.8 914.7,549.5 C905.2,545.2 904.2,540.9 901.8,536.6 C899.4,532.3 898,527.6 900.5,523.7 Z" fill="url(#p8)" stroke="none"/>
<path class="s" d="M900.5,523.7 C903,519.8 908.1,513.8 917,513.3 C925.9,512.8 940.6,519.3 953.6,521 C966.6,522.7 986.4,520.2 995,523.7 C1003.6,527.2 1004.2,534.5 1005,541.8 C1005.8,549.1 1003,562.3 1000,567.7 C997,573.1 993.9,574.9 987,574 C980.1,573.1 970.8,566.6 958.7,562.5 C946.7,558.4 924.2,553.8 914.7,549.5 C905.2,545.2 904.2,540.9 901.8,536.6 C899.4,532.3 898,527.6 900.5,523.7 Z" style="stroke-width:1.6"/>
<text x="944" y="549" font-size="17" font-weight="bold" style="fill:#222">B I</text>
<circle class="l" cx="1055" cy="532" r="28" style="stroke:#aaa;stroke-width:1.1"/>
<text x="1063" y="526" font-size="14" style="fill:#333">E</text>
<circle cx="1055" cy="535" r="2" fill="#222"/>
<path class="s" d="M694,596 C698.3,593 710.7,583.5 720,578 C729.3,572.5 736.7,567.3 750,563 C763.3,558.7 783.3,554.2 800,552 C816.7,549.8 833,549 850,549.5 C867,550 884.5,551.3 901.8,554.7 C919.1,558.1 936.4,563.1 953.6,570 C970.8,576.9 990.6,590 1005,596 C1019.4,602 1026.7,603.5 1040,606 C1053.3,608.5 1077.5,610.2 1085,611" style="stroke-width:1.3"/>
<path class="l" d="M700,600 C710,595.3 733.3,579 760,572 C786.7,565 827.7,555.7 860,558 C892.3,560.3 928.6,576.8 953.6,585.8 C978.6,594.8 995.6,605.7 1010,611.7 C1024.4,617.7 1035,620.3 1040,622" style="stroke:#999"/>
<path class="s" d="M716,617 C721.7,612.8 738.2,598.8 750,592 C761.8,585.2 773.7,579.5 787,576 C800.3,572.5 818.7,570.8 830,571 C841.3,571.2 843,571.5 855,577 C867,582.5 887.5,594.3 901.8,604 C916.1,613.7 927.6,626 940.6,635 C953.6,644 967.9,652.4 979.5,658 C991.1,663.6 999.9,665.9 1010,668.6 C1020.1,671.3 1027.2,672.1 1040,674 C1052.8,675.9 1079.2,679 1087,680" style="stroke-width:1.3"/>
<circle class="s" cx="816" cy="622" r="55" style="stroke-width:1.7"/>
<circle class="t" cx="812" cy="620" r="52" style="stroke:#444"/>
<text x="784" y="605" font-size="18" textLength="75" lengthAdjust="spacingAndGlyphs">Existing</text>
<text x="777" y="635" font-size="18" textLength="37" lengthAdjust="spacingAndGlyphs">palm</text>
<text x="823" y="635" font-size="18" textLength="43" lengthAdjust="spacingAndGlyphs">tree</text>
<circle cx="814" cy="618" r="1.8" fill="#222"/>
<path class="k" d="M738,634 C739.3,631.5 744.3,630 748,630 C751.7,630 755,630.3 760,634 C765,637.7 772.2,644.7 778,652 C783.8,659.3 790,669.7 795,678 C800,686.3 805.2,695.3 808,702 C810.8,708.7 812.3,714.7 812,718 C811.7,721.3 808.7,722.7 806,722 C803.3,721.3 801,719.3 796,714 C791,708.7 782.8,698.3 776,690 C769.2,681.7 761,671.5 755,664 C749,656.5 742.8,650 740,645 C737.2,640 736.7,636.5 738,634 Z" style="stroke-width:1.6"/>
<path class="t" d="M745,630 C748.3,631.7 757.5,633.3 765,640 C772.5,646.7 785.8,665 790,670"/>
<text x="782" y="693" font-size="15" style="fill:#333">F</text>
<path class="d" d="M800,706 Q812,720 813,735" style="stroke:#555;stroke-dasharray:1.5 1.5"/>
<clipPath id="c9"><path d="M863,655.7 C865.6,650.1 874.2,635 883.7,632.4 C893.2,629.8 909.2,635.7 920,640 C930.8,644.3 940.6,652.2 948.4,658.3 C956.1,664.4 963.1,670.4 966.5,676.4 C969.9,682.4 971.1,690.6 969,694.5 C966.9,698.4 959.6,701 953.6,699.7 C947.6,698.4 941.4,692 932.8,686.8 C924.2,681.6 912.6,672.1 901.8,668.6 C891,665.1 874.5,668.1 868,666 C861.5,663.9 860.4,661.3 863,655.7 Z"/></clipPath>
<pattern id="p9" patternUnits="userSpaceOnUse" width="9" height="9" patternTransform="rotate(45)"><line x1="0" y1="0" x2="0" y2="9" stroke="#666" stroke-width="1.3"/></pattern>
<path d="M863,655.7 C865.6,650.1 874.2,635 883.7,632.4 C893.2,629.8 909.2,635.7 920,640 C930.8,644.3 940.6,652.2 948.4,658.3 C956.1,664.4 963.1,670.4 966.5,676.4 C969.9,682.4 971.1,690.6 969,694.5 C966.9,698.4 959.6,701 953.6,699.7 C947.6,698.4 941.4,692 932.8,686.8 C924.2,681.6 912.6,672.1 901.8,668.6 C891,665.1 874.5,668.1 868,666 C861.5,663.9 860.4,661.3 863,655.7 Z" fill="url(#p9)" stroke="none"/>
<path class="s" d="M863,655.7 C865.6,650.1 874.2,635 883.7,632.4 C893.2,629.8 909.2,635.7 920,640 C930.8,644.3 940.6,652.2 948.4,658.3 C956.1,664.4 963.1,670.4 966.5,676.4 C969.9,682.4 971.1,690.6 969,694.5 C966.9,698.4 959.6,701 953.6,699.7 C947.6,698.4 941.4,692 932.8,686.8 C924.2,681.6 912.6,672.1 901.8,668.6 C891,665.1 874.5,668.1 868,666 C861.5,663.9 860.4,661.3 863,655.7 Z" style="stroke-width:1.5"/>
<text x="900" y="665" font-size="16" style="fill:#333">I</text>
<circle class="s" cx="1055" cy="616.5" r="30" style="stroke-width:1.5"/>
<circle class="t" cx="1052" cy="620" r="27" style="stroke:#555"/>
<text x="1036" y="635" font-size="17" style="fill:#333">D</text>
<circle class="t" cx="1058" cy="611" r="4"/>
<circle class="s" cx="766" cy="716.5" r="24"/>
<circle class="l" cx="763" cy="716" r="26" style="stroke:#555"/>
<text x="764" y="724" font-size="15" style="fill:#333">E</text>
<circle cx="758" cy="720" r="2.2" fill="#222"/>
<circle class="l" cx="848" cy="718" r="26" style="stroke:#aaa"/>
<circle class="l" cx="846" cy="722" r="23" style="stroke:#bbb"/>
<text x="840" y="734" font-size="13" style="fill:#444">E</text>
<circle class="l" cx="844" cy="714" r="2.5" style="stroke:#666"/>
<circle class="l" cx="906" cy="692.6" r="25" style="stroke:#999"/>
<circle class="l" cx="908" cy="695" r="22" style="stroke:#bbb"/>
<text x="888" y="695" font-size="14" style="fill:#333">D</text>
<circle class="l" cx="904" cy="692" r="2.2" style="stroke:#555"/>
<circle class="l" cx="952" cy="725" r="24" style="stroke:#666"/>
<circle class="l" cx="954" cy="727" r="21" style="stroke:#999"/>
<text x="938" y="732" font-size="13" style="fill:#333">E</text>
<circle class="l" cx="1002.6" cy="696" r="24" style="stroke:#aaa"/>
<circle class="l" cx="1004" cy="698" r="21" style="stroke:#ccc"/>
<text x="987" y="699" font-size="14" style="fill:#333">D</text>
<circle class="l" cx="1003" cy="695" r="2.2" style="stroke:#555"/>
<circle class="l" cx="1020.5" cy="732" r="25" style="stroke:#888"/>
<circle class="l" cx="1018" cy="735" r="22" style="stroke:#aaa"/>
<text x="1009" y="741" font-size="13" style="fill:#333">E</text>
<circle class="s" cx="1065" cy="723" r="27" style="stroke-width:1.3"/>
<circle class="l" cx="1062" cy="720" r="25" style="stroke:#666"/>
<text x="1058" y="729" font-size="17" style="fill:#333">E</text>
<path class="t" d="M764,575 L816,381.5 L838,381.5"/>
<circle cx="764" cy="575" r="2.2" fill="#222"/>
<text x="853.8" y="388" font-size="19" textLength="50.9" lengthAdjust="spacingAndGlyphs">River</text>
<text x="921" y="388" font-size="19" textLength="42.8" lengthAdjust="spacingAndGlyphs">Rock</text>
<text x="974.8" y="388" font-size="19" textLength="85.2" lengthAdjust="spacingAndGlyphs">(φ5"-3")</text>
<text x="1076.5" y="388" font-size="19" textLength="77" lengthAdjust="spacingAndGlyphs">mulching</text>
<path class="t" d="M873.7,508.7 L906,440.6 L920,440.6"/>
<circle cx="873.7" cy="508.7" r="2.2" fill="#222"/>
<text x="935" y="447" font-size="17" textLength="42.5" lengthAdjust="spacingAndGlyphs">Bark</text>
<text x="992.6" y="447" font-size="17" textLength="52.4" lengthAdjust="spacingAndGlyphs">mulch</text>
<text x="1067" y="447" font-size="17" textLength="93.4" lengthAdjust="spacingAndGlyphs">mulching</text>
<path class="t" d="M904,732 L917.5,800.3 L935,801.5"/>
<circle cx="904" cy="732" r="2.2" fill="#222"/>
<text x="946.7" y="809" font-size="18" textLength="40.8" lengthAdjust="spacingAndGlyphs">Bark</text>
<text x="1001.5" y="809" font-size="18" textLength="57.2" lengthAdjust="spacingAndGlyphs">mulch</text>
<text x="1072.6" y="809" font-size="18" textLength="84" lengthAdjust="spacingAndGlyphs">mulching</text>
<path class="t" d="M233,582 L235,640 L249.6,640"/>
<text x="260" y="651" font-size="19" textLength="41.7" lengthAdjust="spacingAndGlyphs">River</text>
<text x="314" y="651" font-size="19" textLength="44" lengthAdjust="spacingAndGlyphs">Rock</text>
<text x="362" y="651" font-size="19" textLength="94" lengthAdjust="spacingAndGlyphs">(φ0.5"- 1")</text>
<text x="470" y="651" font-size="19" textLength="73" lengthAdjust="spacingAndGlyphs">mulching</text>
<path class="t" d="M207,567 L208,665 L216,665"/>
<text x="226.7" y="672" font-size="16" textLength="47.9" lengthAdjust="spacingAndGlyphs">Mondo</text>
<text x="283" y="672" font-size="16" textLength="43.7" lengthAdjust="spacingAndGlyphs">grass</text>
<path class="t" d="M178.6,541 L181,690 L195,690"/>
<text x="203.8" y="695" font-size="17" textLength="31.2" lengthAdjust="spacingAndGlyphs">pea</text>
<text x="249.6" y="695" font-size="17" textLength="56.4" lengthAdjust="spacingAndGlyphs">gravel</text>
<text x="324.6" y="695" font-size="17" textLength="83.4" lengthAdjust="spacingAndGlyphs">mulching</text>
<path class="s" d="M246,590 L316,590.7"/>
</svg>
</body></html>
